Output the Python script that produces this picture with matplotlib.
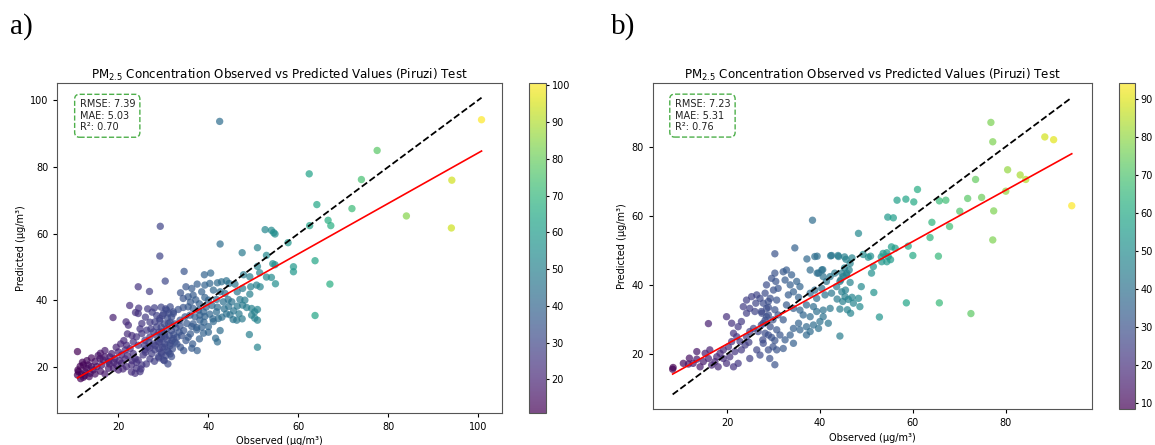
import numpy as np
import matplotlib.pyplot as plt

# (observed, predicted) pairs
points_a = np.array([
    (42.5, 93.6), (100.7, 94.1), (77.5, 84.9), (62.4, 77.9), (74.0, 76.2), (94.1, 76.0),
    (64.1, 68.7), (71.9, 67.5), (84.0, 65.3), (66.6, 64.0), (67.2, 62.4), (62.5, 62.4),
    (29.3, 62.2), (94.0, 61.7), (52.6, 61.2), (54.0, 61.0), (54.5, 60.3), (54.8, 59.9),
    (29.2, 53.3), (42.6, 56.9), (47.5, 54.3), (50.9, 55.8), (52.9, 53.5), (54.3, 51.0),
    (54.8, 50.7), (57.7, 57.3), (63.7, 51.9), (58.9, 50.1), (58.9, 48.6), (50.9, 50.2),
    (51.4, 48.3), (47.8, 47.7), (52.9, 47.0), (54.9, 45.0), (67.0, 44.9), (63.7, 35.5),
    (49.1, 29.8), (50.9, 26.0), (34.6, 48.7), (30.4, 45.8), (24.4, 44.1), (26.9, 42.7),
    (39.1, 47.7), (40.5, 48.2), (18.8, 34.9), (10.9, 24.7), (22.5, 38.5), (24.5, 37.7),
    (42.6, 31.0), (41.6, 28.7), (42.0, 27.6), (37.5, 25.0), (36.3, 25.7), (45.5, 34.3),
    (46.3, 34.1), (44.8, 35.7),
    (54.0, 46.9), (49.2, 47.1), (50.7, 44.6), (51.5, 44.1), (42.0, 45.3), (42.9, 45.6),
    (44.0, 45.9), (44.6, 45.1), (46.4, 42.6), (47.6, 43.6), (49.2, 41.9), (49.4, 44.1),
    (45.9, 44.9), (35.0, 44.1), (36.3, 43.6), (37.5, 44.9), (38.5, 42.6), (36.6, 41.6),
    (35.5, 41.1), (34.4, 40.6), (33.8, 42.3), (39.2, 44.6), (40.3, 45.1), (41.1, 43.1),
    (42.6, 42.6), (43.7, 42.1), (44.4, 40.3), (43.3, 39.6), (41.8, 40.3), (40.0, 40.1),
    (39.2, 40.9), (45.2, 39.6), (46.4, 38.3), (47.6, 38.6), (48.5, 37.9), (49.6, 37.6),
    (50.3, 36.6), (50.9, 37.3), (49.6, 35.6), (50.3, 34.7), (50.9, 34.1), (47.0, 40.3),
    (48.1, 40.1), (38.9, 30.2), (37.4, 31.2), (36.6, 33.0), (38.1, 34.1), (39.2, 35.2),
    (40.3, 35.9), (41.8, 36.6), (42.2, 34.6), (41.1, 33.7), (40.0, 32.2), (32.2, 36.6),
    (33.3, 37.3), (34.4, 37.9), (35.5, 38.1), (36.6, 37.6), (37.8, 37.1), (38.9, 36.6),
    (33.7, 34.1), (34.8, 35.1), (35.9, 35.6), (37.0, 35.1), (38.1, 35.6), (33.7, 32.4),
    (35.2, 33.1), (36.3, 32.2), (37.4, 31.9), (36.0, 39.5), (37.2, 40.2), (38.0, 39.0),
    (39.5, 38.0), (40.8, 38.5), (42.0, 38.0), (43.5, 37.5), (44.5, 38.2), (45.6, 36.9),
    (46.8, 36.0), (47.5, 34.5), (44.0, 36.0), (43.0, 35.0), (41.0, 34.5), (39.0, 33.5),
    (38.5, 32.0), (40.0, 30.5), (36.0, 30.0), (35.0, 28.0), (36.5, 27.0), (38.0, 28.5),
    (29.5, 38.0), (30.5, 37.5), (31.2, 36.2), (29.8, 35.5), (30.9, 34.8), (31.8, 35.0),
    (29.2, 34.0), (30.2, 33.0), (31.5, 33.5), (32.5, 33.0), (29.5, 32.0), (30.7, 31.5),
    (31.8, 31.0), (32.8, 31.8), (29.0, 30.5), (30.2, 30.0), (31.3, 29.5), (32.3, 29.8),
    (29.6, 29.0), (30.8, 28.2), (31.9, 28.0), (29.2, 27.5), (30.3, 27.0), (31.5, 26.5),
    (32.6, 27.5), (29.8, 26.0), (30.9, 25.0), (29.5, 24.5), (30.5, 23.5), (31.5, 24.0),
    (30.2, 22.0), (31.0, 21.0), (29.0, 22.8), (32.0, 25.5), (33.0, 29.0), (33.5, 30.5),
    (33.0, 27.0), (34.0, 29.5), (34.5, 31.0), (33.8, 26.0), (34.5, 25.0), (35.5, 29.0),
    (11.0, 19.2), (11.1, 18.7), (10.9, 17.7), (11.8, 18.0), (12.6, 18.7), (12.9, 19.7),
    (12.2, 20.7), (13.3, 20.7), (14.0, 20.2), (14.4, 19.2), (13.7, 18.2), (14.8, 21.7),
    (15.2, 20.2), (16.3, 20.7), (16.6, 22.2), (15.9, 22.6), (17.0, 23.1), (17.8, 21.7),
    (18.1, 23.1), (18.5, 24.1), (19.2, 22.6), (19.6, 20.7), (18.9, 19.7), (17.8, 19.7),
    (20.0, 24.6), (20.7, 23.7), (21.5, 25.2), (21.8, 26.6), (22.6, 25.6), (23.3, 24.1),
    (23.7, 22.6), (22.9, 20.7), (24.0, 19.7), (24.8, 18.7), (25.2, 20.7), (24.4, 22.2),
    (25.5, 23.7), (25.9, 25.2), (26.6, 26.1), (27.4, 24.1), (28.1, 25.2), (28.9, 23.2),
    (29.6, 24.1), (30.0, 22.2), (30.3, 26.1), (31.1, 24.6), (31.8, 23.2), (31.5, 27.1),
    (32.2, 28.6), (24.4, 26.6), (23.3, 27.6), (24.0, 29.1), (25.2, 30.1), (25.9, 28.1),
    (27.0, 29.1), (27.8, 30.6), (28.5, 32.1), (28.1, 33.6), (29.2, 34.6), (30.0, 36.1),
    (30.7, 37.1), (31.5, 38.1), (32.2, 36.1), (31.1, 33.1), (29.6, 30.6), (30.3, 29.1),
    (28.9, 27.6), (26.3, 31.1), (25.2, 33.1), (21.7, 33.6), (24.4, 36.1), (22.2, 32.6),
    (23.8, 36.4), (20.7, 21.2), (21.8, 20.2), (20.0, 19.2), (22.9, 18.6), (23.7, 18.2),
    (21.0, 19.5), (26.0, 35.0), (27.0, 33.5), (27.5, 36.5), (26.5, 37.5), (28.5, 35.5),
    (28.0, 37.8), (27.2, 31.5), (26.8, 27.5), (27.8, 27.0), (28.5, 29.5), (22.0, 30.0),
    (21.2, 28.0), (20.5, 27.0), (19.5, 26.0), (23.0, 29.5), (24.8, 31.5), (25.8, 26.5),
    (27.0, 22.5), (28.0, 21.8), (26.2, 21.0), (25.0, 19.5), (17.0, 25.0), (16.0, 24.2),
    (15.5, 23.5), (14.0, 22.8), (13.0, 22.0), (12.0, 21.5), (11.5, 20.3), (12.5, 17.5),
    (13.5, 17.2), (14.8, 18.0), (16.0, 18.8), (17.0, 18.0), (18.0, 21.0), (19.0, 21.5),
    (20.2, 22.0), (21.5, 22.5), (22.0, 23.5), (23.0, 22.0), (24.0, 21.5), (26.0, 24.5),
    (27.0, 25.8), (28.2, 26.5), (29.0, 25.5), (29.3, 28.5), (11.6, 16.6), (12.2, 17.0),
])

points_b = np.array([
    (76.8, 87.0), (77.2, 81.4), (88.4, 82.8), (90.3, 82.0), (94.2, 62.9), (80.4, 73.3),
    (83.1, 71.8), (84.3, 70.5), (73.5, 70.5), (80.0, 67.1), (61.0, 67.6), (56.6, 64.5),
    (58.5, 64.8), (60.2, 64.0), (65.7, 64.3), (67.1, 64.5), (71.8, 65.0), (74.8, 65.3),
    (70.1, 61.3), (77.4, 61.4), (38.4, 58.7), (54.6, 59.6), (55.8, 59.4), (64.1, 58.1),
    (67.9, 56.9),
    (77.2, 53.0), (48.3, 54.9), (63.7, 53.7), (59.0, 51.2), (55.4, 51.0), (54.4, 49.3),
    (53.2, 48.1), (55.2, 47.3), (50.9, 48.3), (49.3, 48.8), (60.0, 48.5), (65.5, 48.3),
    (42.5, 48.5), (43.9, 48.5), (45.3, 48.1), (46.9, 47.8), (34.6, 50.7), (30.3, 49.0),
    (37.2, 47.5), (39.4, 48.3), (48.9, 39.5), (51.6, 37.8), (58.6, 34.8), (65.7, 34.8),
    (52.8, 30.7), (72.5, 31.7), (44.3, 25.2), (30.3, 16.9), (8.3, 15.6), (8.4, 16.1),
    (16.0, 28.8), (24.7, 23.4),
    (38.9, 48.2), (42.3, 48.4), (44.0, 48.2), (45.6, 47.4), (46.5, 46.2), (50.4, 48.0),
    (53.6, 49.1), (54.7, 48.2), (54.4, 46.7), (53.3, 46.7), (56.2, 50.6), (51.5, 45.3),
    (51.1, 43.4), (46.6, 31.8),
    (30.3, 43.4), (29.6, 41.9), (30.5, 41.0), (28.5, 40.0), (30.0, 38.5), (31.0, 39.0),
    (28.2, 37.6), (29.3, 36.1), (30.7, 35.6), (27.8, 34.7), (28.9, 33.5), (30.3, 32.8),
    (27.5, 31.8), (28.5, 30.8), (29.9, 29.9), (31.0, 31.3), (27.8, 28.9), (29.3, 27.9),
    (30.7, 27.0), (28.2, 26.0), (29.6, 24.8), (30.3, 23.9), (29.9, 22.1), (30.7, 21.2),
    (27.7, 24.1),
    (32.1, 43.8), (32.8, 44.3), (33.9, 42.9), (32.5, 41.4), (33.6, 40.0), (35.0, 41.0),
    (34.3, 38.0), (35.7, 39.5), (33.2, 37.1), (35.4, 36.4),
    (37.9, 44.3), (39.7, 43.4), (40.4, 44.3), (40.7, 42.4), (41.4, 41.0), (40.4, 39.0),
    (38.9, 38.5), (37.9, 37.6), (39.3, 36.1), (41.1, 37.1), (42.5, 37.6), (43.6, 39.5),
    (44.3, 41.0), (45.0, 42.4), (45.8, 43.4), (46.3, 44.3), (43.2, 43.4), (42.2, 42.4),
    (44.7, 38.0), (45.4, 36.6), (44.9, 35.2), (46.1, 35.8), (44.3, 33.0), (45.9, 32.8),
    (47.2, 34.7), (48.3, 36.1), (48.6, 33.7),
    (32.8, 34.2), (34.3, 33.2), (35.7, 32.7), (37.1, 34.2), (38.6, 33.7), (36.4, 31.3),
    (37.9, 30.8), (39.3, 32.3), (40.7, 30.8), (40.0, 29.4), (38.6, 28.4), (37.1, 27.9),
    (35.4, 28.9), (34.3, 27.4), (35.7, 27.0), (37.9, 26.5), (39.7, 27.4), (41.8, 28.9),
    (40.7, 32.7), (42.2, 33.2),
    (32.1, 29.9), (31.4, 25.5), (32.5, 24.1), (33.6, 25.5), (32.1, 21.6), (34.3, 23.1),
    (37.1, 25.5),
    (45.3, 44.9), (45.7, 42.9), (46.5, 40.7), (44.7, 43.4), (44.5, 41.5), (45.5, 38.5),
    (46.9, 36.4), (43.7, 35.9), (39.4, 43.4), (40.6, 44.4),
    (10.6, 17.3), (11.7, 17.1), (12.7, 17.3), (11.9, 18.8), (13.5, 18.5), (14.2, 16.3),
    (14.9, 17.8), (13.5, 20.7), (15.3, 20.2), (16.0, 18.7), (16.7, 16.8), (17.4, 17.8),
    (17.8, 19.2), (16.3, 21.2), (18.5, 20.2), (19.2, 18.7), (19.9, 17.3), (20.6, 19.2),
    (19.2, 21.2), (20.3, 22.1), (21.0, 23.6), (21.4, 26.0), (22.1, 25.0), (22.8, 23.6),
    (21.7, 20.7), (23.1, 21.2), (23.9, 22.6), (24.2, 25.0), (24.9, 26.5), (25.7, 27.4),
    (26.7, 26.5), (27.4, 28.4), (28.2, 29.8), (28.9, 31.3), (28.5, 33.2), (27.1, 36.1),
    (26.4, 37.1), (25.3, 36.6), (24.2, 35.6), (24.9, 33.2), (26.0, 32.3), (27.4, 32.3),
    (28.9, 35.2), (19.9, 30.8), (24.2, 31.8), (23.1, 29.4), (22.4, 27.9), (21.0, 28.9),
    (24.9, 18.7), (26.4, 21.2), (27.8, 23.1), (28.9, 25.5), (27.1, 19.7), (28.9, 21.2),
    (29.2, 18.7), (22.4, 17.3), (21.4, 16.3), (18.1, 16.3), (23.5, 33.7), (26.2, 34.7),
])

# regression line (slope, intercept)
fit_a = (0.756, 8.6)
fit_b = (0.742, 8.04)

stats_a = ['RMSE: 7.39', 'MAE: 5.03', 'R²: 0.70']
stats_b = ['RMSE: 7.23', 'MAE: 5.31', 'R²: 0.76']

title = r'PM$_{2.5}$ Concentration Observed vs Predicted Values (Piruzi) Test'

fig = plt.figure(figsize=(11.55, 4.45), dpi=100)


def make_panel(ax_rect, cax_rect, points, fit, stats, tag, tag_x):
    ax = fig.add_axes(ax_rect)
    cax = fig.add_axes(cax_rect)
    obs, pred = points[:, 0], points[:, 1]

    sc = ax.scatter(obs, pred, c=obs, cmap='viridis', alpha=0.7, s=28, edgecolors='none')
    lo, hi = obs.min(), obs.max()
    ax.plot([lo, hi], [lo, hi], 'k--', lw=1.3)
    xs = np.array([lo, hi])
    ax.plot(xs, fit[0] * xs + fit[1], 'r-', lw=1.2)

    ax.set_title(title, fontsize=8.6, pad=3)
    ax.set_xlabel('Observed (µg/m³)', fontsize=7, labelpad=3)
    ax.set_ylabel('Predicted (µg/m³)', fontsize=7, labelpad=3)
    ax.tick_params(labelsize=7, length=3)
    for sp in ax.spines.values():
        sp.set_color('#555555')

    ax.text(0.05, 0.95, '\n'.join(stats), transform=ax.transAxes, va='top', ha='left',
            fontsize=7, color='#222222',
            bbox=dict(boxstyle='round,pad=0.5', facecolor='white', edgecolor='#4daf4a',
                      linestyle='--', linewidth=1))

    cb = fig.colorbar(sc, cax=cax)
    cb.ax.tick_params(labelsize=7, length=2.5, pad=1.5)
    cb.outline.set_edgecolor('#555555')

    fig.text(tag_x, 1 - 13 / 445, tag, family='Liberation Serif', fontsize=21,
             va='top', ha='left')


make_panel([0.0496, 0.0726, 0.3848, 0.7416], [0.458, 0.0726, 0.0147, 0.7416],
           points_a, fit_a, stats_a, 'a)', 10 / 1155)
make_panel([0.5651, 0.0802, 0.3801, 0.734], [0.9688, 0.0802, 0.0139, 0.734],
           points_b, fit_b, stats_b, 'b)', 611 / 1155)

fig.savefig('out.png', dpi=100)
